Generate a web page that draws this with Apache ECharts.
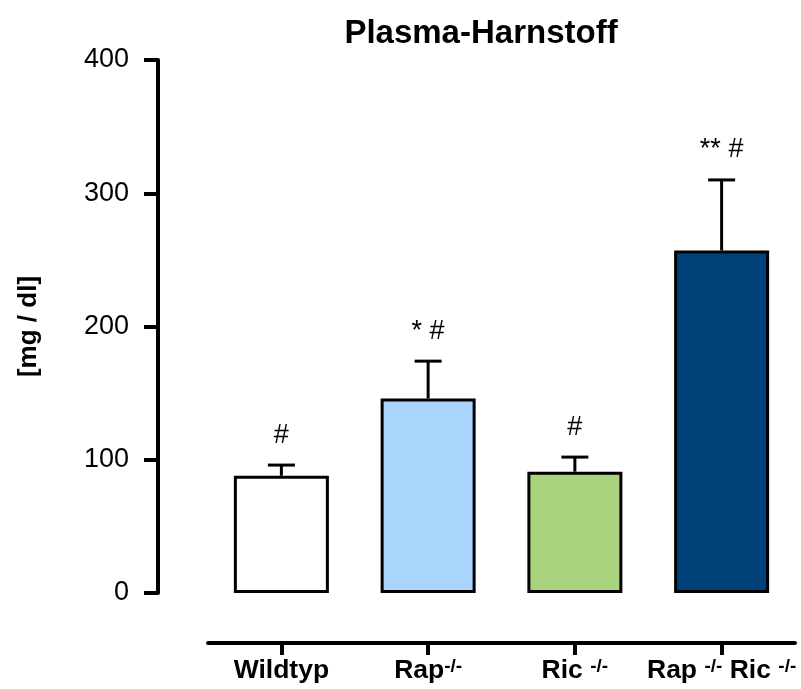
<!DOCTYPE html>
<html>
<head>
<meta charset="utf-8">
<script src="https://cdn.jsdelivr.net/npm/echarts@6/dist/echarts.min.js"></script>
<style>
  html, body { margin: 0; padding: 0; background: #fff; }
  #chart { width: 801px; height: 689px; }
</style>
</head>
<body>
<div id="chart"></div>
<script>
// Plasma urea per genotype: mean, upper error (mean + SEM) and significance marks
const categories = ['Wildtyp', 'Rap', 'Ric', 'RapRic'];
const meanValues = [88, 146, 91, 257];
const errorTops = [96, 174, 102, 310];
const markers = ['#', '* #', '#', '** #'];
const barColors = ['#ffffff', '#aad6fe', '#a9d37c', '#00417a'];
const yTicks = [0, 100, 200, 300, 400];

// Rich-text label for each genotype (superscript "-/-")
const categoryLabels = {
  Wildtyp: '{b|Wildtyp}',
  Rap: '{b|Rap}{s|-/-}',
  Ric: '{b|Ric }{s|-/-}',
  RapRic: '{b|Rap }{s|-/-}{b| Ric }{s|-/-}'
};

const FONT = 'Liberation Sans, Arial, Helvetica, sans-serif';

const chart = echarts.init(document.getElementById('chart'), null, { renderer: 'canvas' });

chart.setOption({
  backgroundColor: '#ffffff',
  animation: false,
  title: {
    text: 'Plasma-Harnstoff',
    left: 476,
    textAlign: 'center',
    top: 12,
    textStyle: { fontFamily: FONT, fontWeight: 'bold', fontSize: 33, color: '#000' }
  },
  grid: { left: 208, right: 6, top: 60, bottom: 96, containLabel: false },
  xAxis: {
    type: 'category',
    data: categories,
    offset: 50,
    axisLine: { show: true, onZero: false, lineStyle: { color: '#000', width: 4 } },
    axisTick: { show: true, alignWithLabel: true, length: 12, lineStyle: { color: '#000', width: 4 } },
    axisLabel: {
      margin: 14,
      interval: 0,
      formatter: v => categoryLabels[v],
      rich: {
        b: { fontFamily: FONT, fontWeight: 'bold', fontSize: 26.5, color: '#000', lineHeight: 28 },
        s: { fontFamily: FONT, fontWeight: 'bold', fontSize: 19, color: '#000', lineHeight: 16, verticalAlign: 'top' }
      }
    },
    splitLine: { show: false }
  },
  yAxis: {
    type: 'value',
    min: yTicks[0],
    max: yTicks[yTicks.length - 1],
    interval: 100,
    offset: 50,
    name: '[mg / dl]',
    nameLocation: 'middle',
    nameRotate: 90,
    nameGap: 116,
    nameTextStyle: { fontFamily: FONT, fontWeight: 'bold', fontSize: 26, color: '#000' },
    axisLine: { show: true, onZero: false, lineStyle: { color: '#000', width: 4 } },
    axisTick: { show: true, length: 14, lineStyle: { color: '#000', width: 4 } },
    axisLabel: { margin: 29, fontFamily: FONT, fontSize: 27, color: '#000' },
    splitLine: { show: false }
  },
  series: [
    {
      type: 'bar',
      barWidth: 95,
      data: meanValues.map((v, i) => ({
        value: v,
        itemStyle: { color: barColors[i], borderColor: '#000', borderWidth: 3 }
      })),
      z: 2
    },
    {
      type: 'custom',
      z: 3,
      data: categories.map((c, i) => [i, meanValues[i], errorTops[i]]),
      renderItem: function (params, api) {
        const i = api.value(0);
        const base = api.coord([i, api.value(1)]);
        const top = api.coord([i, api.value(2)]);
        const half = 13.5;
        const style = { stroke: '#000', lineWidth: 3 };
        return {
          type: 'group',
          children: [
            { type: 'line', shape: { x1: base[0], y1: base[1], x2: top[0], y2: top[1] }, style: style },
            { type: 'line', shape: { x1: top[0] - half, y1: top[1], x2: top[0] + half, y2: top[1] }, style: style },
            {
              type: 'text',
              x: top[0],
              y: top[1] - 30,
              style: {
                text: markers[params.dataIndex],
                fontFamily: FONT,
                fontSize: 27,
                fill: '#000',
                align: 'center',
                verticalAlign: 'middle'
              }
            }
          ]
        };
      }
    }
  ]
});
</script>
</body>
</html>
